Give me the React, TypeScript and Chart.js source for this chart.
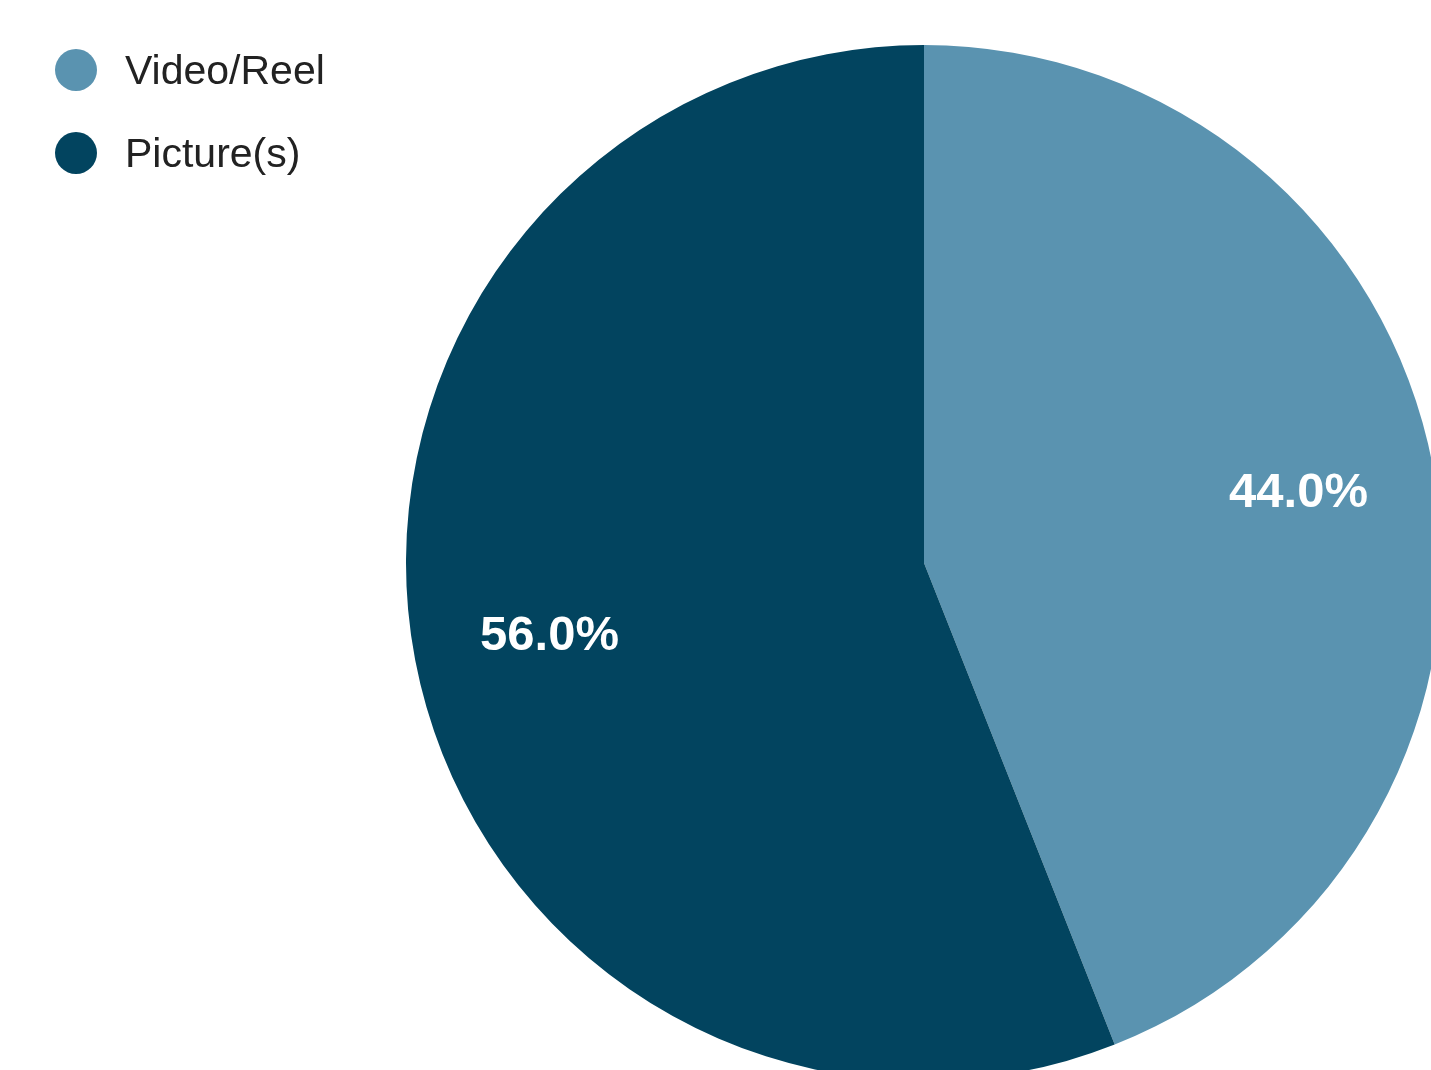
import React, { useEffect, useRef } from "react";
import { Chart, registerables } from "chart.js";

Chart.register(...registerables);

const categories = ["Video/Reel", "Picture(s)"];
const shares = [44.0, 56.0];
const sliceColors = ["#5A93B0", "#02445F"];

const overlayPlugin = {
  id: "overlay",
  afterDraw(chart: any) {
    const ctx = chart.ctx;
    const meta = chart.getDatasetMeta(0);
    const data = chart.data.datasets[0].data as number[];
    const total = data.reduce((a: number, b: number) => a + b, 0);
    ctx.save();
    // slice labels
    ctx.fillStyle = "#ffffff";
    ctx.font = "bold 49px 'Liberation Sans', Arial, sans-serif";
    ctx.textAlign = "center";
    ctx.textBaseline = "middle";
    meta.data.forEach((arc: any, i: number) => {
      const p = arc.getProps(["x", "y", "startAngle", "endAngle", "outerRadius"], true);
      const mid = (p.startAngle + p.endAngle) / 2;
      const r = p.outerRadius * 0.736;
      const x = p.x + Math.cos(mid) * r;
      const y = p.y + Math.sin(mid) * r + 2;
      ctx.fillText(((data[i] / total) * 100).toFixed(1) + "%", x, y);
    });
    // legend
    const labels = chart.data.labels as string[];
    const colors = chart.data.datasets[0].backgroundColor as string[];
    ctx.font = "41px 'Liberation Sans', Arial, sans-serif";
    ctx.textAlign = "left";
    ctx.textBaseline = "alphabetic";
    labels.forEach((lab: string, i: number) => {
      const cy = 70 + i * 83;
      ctx.beginPath();
      ctx.arc(76, cy, 21, 0, Math.PI * 2);
      ctx.fillStyle = colors[i];
      ctx.fill();
      ctx.fillStyle = "#222222";
      ctx.fillText(lab, 125, cy + 14);
    });
    ctx.restore();
  },
};

export default function App() {
  const ref = useRef<HTMLCanvasElement | null>(null);
  useEffect(() => {
    if (!ref.current) return;
    const chart = new Chart(ref.current, {
      type: "pie",
      data: {
        labels: categories,
        datasets: [
          {
            data: shares,
            backgroundColor: sliceColors,
            borderWidth: 0,
          },
        ],
      },
      options: {
        responsive: false,
        animation: false,
        layout: { padding: { left: 406, top: 45, right: 8, bottom: 9 } },
        plugins: {
          legend: { display: false },
          tooltip: { enabled: false },
        },
      },
      plugins: [overlayPlugin],
    });
    return () => chart.destroy();
  }, []);
  return (
    <div
      style={{
        position: "fixed",
        left: 0,
        top: 0,
        width: 1431,
        height: 1070,
        overflow: "hidden",
        background: "#ffffff",
      }}
    >
      <canvas ref={ref} width={1450} height={1090} style={{ display: "block" }} />
    </div>
  );
}
